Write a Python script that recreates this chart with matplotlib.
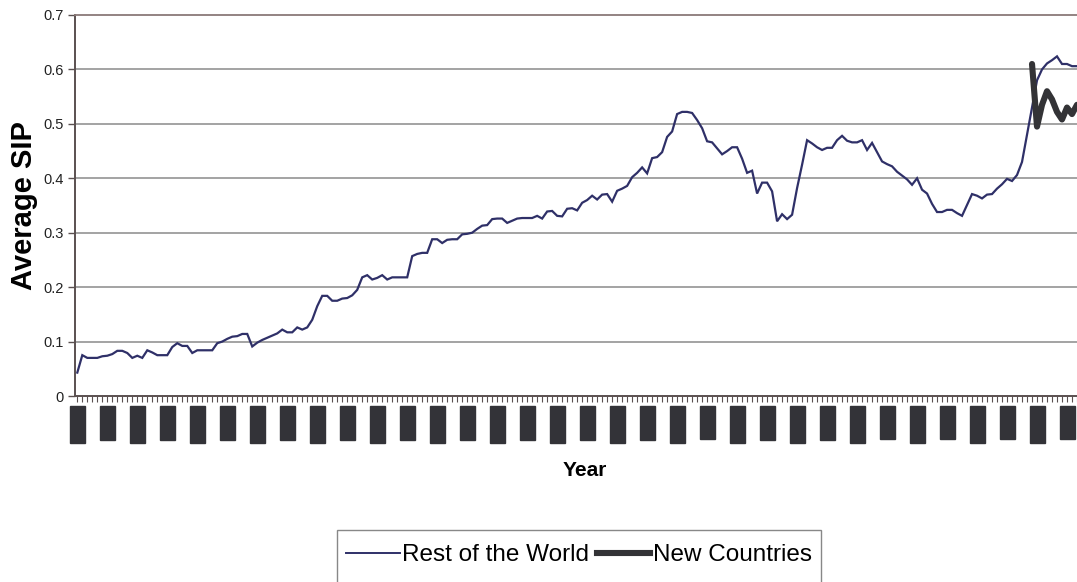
import matplotlib
matplotlib.use("Agg")
import matplotlib.pyplot as plt
import numpy as np
from matplotlib.lines import Line2D
from matplotlib.patches import Rectangle

plt.rcParams['font.family'] = ['Liberation Sans', 'DejaVu Sans']

rest_of_world = [
    0.043, 0.075, 0.070, 0.070, 0.070, 0.073, 0.074, 0.077, 0.083, 0.083,
    0.079, 0.070, 0.074, 0.070, 0.084, 0.080, 0.075, 0.075, 0.075, 0.090,
    0.097, 0.092, 0.092, 0.079, 0.084, 0.084, 0.084, 0.084, 0.097, 0.100,
    0.105, 0.109, 0.110, 0.114, 0.114, 0.091, 0.098, 0.103, 0.107, 0.111,
    0.115, 0.122, 0.117, 0.117, 0.126, 0.122, 0.126, 0.140, 0.165, 0.184,
    0.184, 0.175, 0.175, 0.179, 0.180, 0.185, 0.195, 0.218, 0.222, 0.214,
    0.217, 0.222, 0.214, 0.218, 0.218, 0.218, 0.218, 0.257, 0.261, 0.263,
    0.263, 0.288, 0.288, 0.281, 0.287, 0.288, 0.288, 0.297, 0.298, 0.300,
    0.307, 0.313, 0.314, 0.325, 0.326, 0.326, 0.318, 0.322, 0.326, 0.327,
    0.327, 0.327, 0.331, 0.326, 0.339, 0.340, 0.331, 0.330, 0.344, 0.345,
    0.341, 0.355, 0.360, 0.368, 0.361, 0.370, 0.371, 0.357, 0.377, 0.381,
    0.386, 0.402, 0.410, 0.420, 0.409, 0.437, 0.439, 0.448, 0.476, 0.486,
    0.518, 0.522, 0.522, 0.520, 0.507, 0.492, 0.468, 0.466, 0.455, 0.444,
    0.450, 0.457, 0.457, 0.436, 0.410, 0.414, 0.372, 0.392, 0.392, 0.376,
    0.321, 0.334, 0.325, 0.333, 0.382, 0.425, 0.470, 0.464, 0.457, 0.452,
    0.456, 0.456, 0.470, 0.478, 0.469, 0.466, 0.466, 0.470, 0.452, 0.465,
    0.448, 0.431, 0.426, 0.422, 0.412, 0.405, 0.398, 0.388, 0.400, 0.379,
    0.372, 0.353, 0.338, 0.338, 0.342, 0.342, 0.336, 0.331, 0.351, 0.371,
    0.368, 0.363, 0.370, 0.371, 0.381, 0.389, 0.399, 0.395, 0.406, 0.430,
    0.480, 0.530, 0.580, 0.600, 0.611, 0.617, 0.624, 0.610, 0.610, 0.606, 0.606,
]
new_countries = [0.610, 0.495, 0.535, 0.560, 0.545, 0.522, 0.508, 0.530, 0.518, 0.535]
new_start = 191

years = [f"{y:02d}" for y in list(range(90, 100)) + list(range(0, 7))]
tick_labels = []
for y in years:
    tick_labels += [f"Jan-{y}", f"Jul-{y}"]
tick_labels = tick_labels[:34]

W, H = 1077, 582
fig = plt.figure(figsize=(W / 100, H / 100), dpi=100)
ax = fig.add_axes([75 / W, (H - 396) / H, (W - 75) / W, (396 - 15) / H])

x_rest = np.arange(len(rest_of_world))
x_new = np.arange(new_start, new_start + len(new_countries))

ax.plot(x_rest, rest_of_world, color='#2f3068', lw=1.6, solid_joinstyle='miter', zorder=3)
ax.plot(x_new, new_countries, color='#333336', lw=4.4, solid_capstyle='round',
        solid_joinstyle='round', zorder=4)

ax.set_xlim(-0.46, 200.0)
ax.set_ylim(0, 0.7)
ax.set_yticks(np.arange(0, 0.71, 0.1))
ax.set_yticklabels(['0', '0.1', '0.2', '0.3', '0.4', '0.5', '0.6', '0.7'])
for yv in np.arange(0.1, 0.65, 0.1):
    ax.axhline(yv, color='#8a8a8a', lw=1.1, zorder=1)

ax.spines['right'].set_visible(False)
ax.spines['top'].set_color('#8a7a78')
ax.spines['top'].set_linewidth(1.3)
ax.spines['left'].set_color('#5a5050')
ax.spines['left'].set_linewidth(1.4)
ax.spines['bottom'].set_color('#5a5050')
ax.spines['bottom'].set_linewidth(1.4)

ax.tick_params(axis='y', direction='out', length=5, width=1, color='#5a5050',
               labelsize=10.5, pad=3, labelcolor='#222222')
label_pos = list(range(0, 6 * len(tick_labels), 6))
ax.set_xticks(label_pos)
ax.set_xticklabels(tick_labels, rotation=90, fontsize=7.5, color='#333338')
ax.set_xticks(np.arange(0, 201), minor=True)
ax.tick_params(axis='x', which='both', direction='out', length=4, width=0.8,
               color='#5a5050', pad=5)
for t in ax.get_xticklabels():
    t.set_bbox(dict(facecolor='#333338', edgecolor='#333338', pad=1.8))

ax.set_ylabel('Average SIP', fontsize=21, fontweight='bold')
ax.yaxis.set_label_coords(-37 / (W - 75), 0.5)
fig.text(585 / W, 1 - 470 / H, 'Year', fontsize=15, fontweight='bold', ha='center', va='center')

handles = [Line2D([], [], color='#2f3068', lw=1.4),
           Line2D([], [], color='#333336', lw=4.4)]
leg = fig.legend(handles, ['Rest of the World', 'New Countries'], loc='center',
                 bbox_to_anchor=(579 / W, 1 - 555 / H), ncol=2, frameon=False,
                 fontsize=17.5, handlelength=2.2, handletextpad=0.1, columnspacing=0.3,
                 borderpad=0.4)

fig.canvas.draw()
bb = leg.get_window_extent()
top = (1 - 530 / H) * fig.bbox.height
fig.patches.append(Rectangle((bb.x0, -20), bb.width, top + 20, transform=None,
                             facecolor='none', edgecolor='#888888', lw=1.0))

fig.savefig('out.png', dpi=100)
